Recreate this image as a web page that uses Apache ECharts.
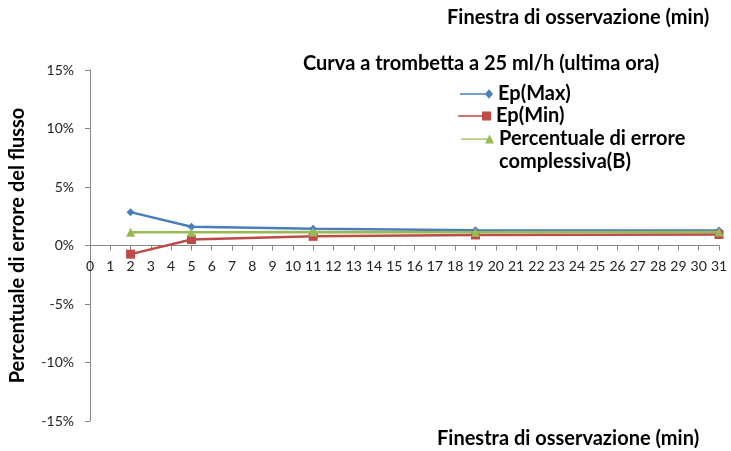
<!DOCTYPE html>
<html><head><meta charset="utf-8">
<script src="https://cdn.jsdelivr.net/npm/echarts@6/dist/echarts.min.js"></script>
<style>html,body{margin:0;padding:0;background:#fff}#c{width:731px;height:451px}</style>
</head><body><div id="c"></div>
<script>
var minutes = [2, 5, 11, 19, 31];
var epMax = [2.85, 1.6, 1.43, 1.3, 1.28];
var epMin = [-0.74, 0.51, 0.78, 0.9, 0.94];
var errB = [1.13, 1.13, 1.15, 1.13, 1.15];
var names = ['Ep(Max)', 'Ep(Min)', 'Percentuale di errore complessiva(B)'];
var legendTexts = ['Ep(Max)', 'Ep(Min)', '\nPercentuale di errore\ncomplessiva(B)'];
var colors = ['#4A7EBB', '#BE4B48', '#98B954'];
var symbols = ['diamond', 'rect', 'triangle'];
var icons = [
  'path://M0,4 L27,4 L27,5.4 L0,5.4 Z M29,0 L33,4.7 L29,9.4 L25,4.7 Z',
  'path://M0,4 L25,4 L25,5.4 L0,5.4 Z M24,0.2 L33,0.2 L33,9.2 L24,9.2 Z',
  'path://M0,4 L27,4 L27,5.4 L0,5.4 Z M29,0 L33.5,9.2 L24.5,9.2 Z'
];
var seriesValues = [epMax, epMin, errB];
function pairs(v){ return minutes.map(function(m,i){ return [m, v[i]]; }); }
var FONT = 'Lato';
var GRID_TOP = 70, GRID_BOTTOM = 30, H = 451;
var Y_MIN = -15, Y_MAX = 15;
// x axis crosses the y axis at 0 (Excel style)
var zeroOffset = -(H - GRID_TOP - GRID_BOTTOM) * (0 - Y_MIN) / (Y_MAX - Y_MIN);
var legendTops = [82.5, 104.5, 104.5];
var legendLefts = [460, 458, 461];
var chart = echarts.init(document.getElementById('c'));
chart.setOption({
  animation: false,
  textStyle: {fontFamily: FONT},
  grid: {left: 89, right: 12, top: GRID_TOP, bottom: GRID_BOTTOM, containLabel: false},
  graphic: [
    {type: 'text', left: 447, top: 8, style: {text: 'Finestra di osservazione (min)', font: 'bold 20px ' + FONT, fill: '#000'}},
    {type: 'text', left: 303, top: 54, style: {text: 'Curva a trombetta a 25 ml/h (ultima ora)', font: 'bold 20px ' + FONT, fill: '#000'}},
    {type: 'text', left: 437, top: 429, style: {text: 'Finestra di osservazione (min)', font: 'bold 20px ' + FONT, fill: '#000'}}
  ],
  legend: names.map(function(n,i){
    return {
      orient: 'vertical', left: legendLefts[i], top: legendTops[i], padding: 0,
      itemWidth: 33, itemHeight: 9.4, itemGap: 0,
      textStyle: {fontFamily: FONT, fontWeight: 'bold', fontSize: 20, color: '#000', lineHeight: 23},
      formatter: function(){ return legendTexts[i]; },
      data: [{name: n, icon: icons[i], itemStyle: {color: colors[i]}}]
    };
  }),
  xAxis: {
    type: 'value', min: 0, max: 31, interval: 1, position: 'bottom', offset: zeroOffset,
    axisLine: {show: true, onZero: false, lineStyle: {color: '#868686', width: 1}},
    axisTick: {show: true, length: 5, lineStyle: {color: '#868686', width: 1}},
    axisLabel: {color: '#222', fontSize: 14, margin: 14, fontFamily: FONT},
    splitLine: {show: false}
  },
  yAxis: {
    type: 'value', min: Y_MIN, max: Y_MAX, interval: 5,
    name: 'Percentuale di errore del flusso', nameLocation: 'middle', nameRotate: 90, nameGap: 62,
    nameTextStyle: {fontFamily: FONT, fontWeight: 'bold', fontSize: 20, color: '#000'},
    axisLine: {show: true, onZero: false, lineStyle: {color: '#868686', width: 1}},
    axisTick: {show: true, length: 5, lineStyle: {color: '#868686'}},
    axisLabel: {color: '#222', fontSize: 14, margin: 16, fontFamily: FONT, formatter: function(v){ return v + '%'; }},
    splitLine: {show: false}
  },
  series: seriesValues.map(function(v,i){
    return {
      name: names[i], type: 'line', data: pairs(v),
      symbol: symbols[i], symbolSize: i === 0 ? 8 : 9, showSymbol: true,
      lineStyle: {color: colors[i], width: 2.5},
      itemStyle: {color: colors[i]},
      z: 3 + i
    };
  })
});
</script></body></html>
